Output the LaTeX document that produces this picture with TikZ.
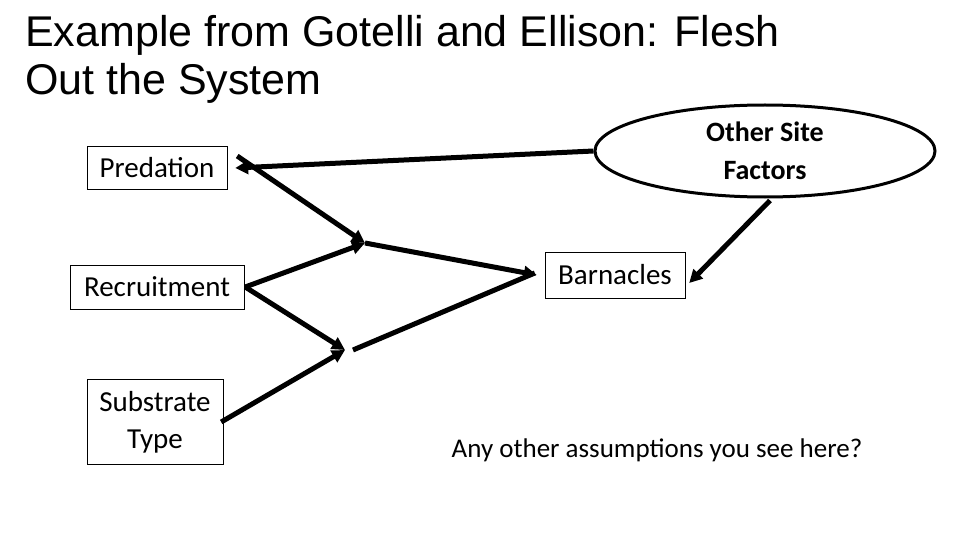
\documentclass[tikz,border=0pt]{standalone}
\usepackage{fontspec}
\setmainfont{Carlito}
\newfontfamily\titlefont{Liberation Sans}
\usetikzlibrary{arrows.meta,shapes.geometric}
\begin{document}
\begin{tikzpicture}[x=1pt,y=-1pt,
    box/.style={draw, thin, font=\fontsize{29}{37}\selectfont, align=center, inner sep=3pt},
    link/.style={line width=5pt, -{Triangle[length=13pt,width=13pt]}},
    seg/.style={line width=5pt}]
    \useasboundingbox (0,0) rectangle (960,540);

    % Title
    \node[anchor=north west, align=left, font=\titlefont\fontsize{43}{48}\selectfont, inner sep=0pt] (title) at (25,15)
        {Example from Gotelli and Ellison: Flesh\\Out the System};

    % Boxes
    \node[box, minimum width=140pt, minimum height=43pt] (pred) at (157,168) {Predation};
    \node[box, minimum width=174pt, minimum height=44pt] (recr) at (157,287) {Recruitment};
    \node[box, minimum width=136pt, minimum height=85pt] (subs) at (155,422) {Substrate\\Type};
    \node[box, minimum width=140pt, minimum height=46pt] (barn) at (615,275) {Barnacles};
    \node[ellipse, draw, line width=3pt, minimum width=340pt, minimum height=92pt, inner sep=0pt,
        font=\bfseries\fontsize{28}{38}\selectfont, align=center] (site) at (765,151) {Other Site\\Factors};

    % Junctions
    \coordinate (j1) at (365,243);
    \coordinate (j2) at (345,350);

    % Arrows
    \draw[link] (site.west) -- ([xshift=8pt]pred.east);
    \draw[link] ([xshift=10pt,yshift=12pt]pred.east) -- (j1);
    \draw[link] ([xshift=1pt]recr.east) -- (j1);
    \draw[link] ([xshift=1pt]recr.east) -- (j2);
    \draw[link] ([xshift=-2pt]subs.east) -- (j2);
    \draw[link] (j1) -- ([xshift=-8pt]barn.west);
    \draw[seg] ([xshift=8pt]j2) -- ([xshift=-10pt,yshift=2pt]barn.west);
    \draw[link] (site.south) ++(5pt,-2pt) -- ([xshift=4pt,yshift=-8pt]barn.east);

    % Question
    \node[font=\fontsize{27}{32}\selectfont] (quest) at (657,450) {Any other assumptions you see here?};
\end{tikzpicture}
\end{document}
